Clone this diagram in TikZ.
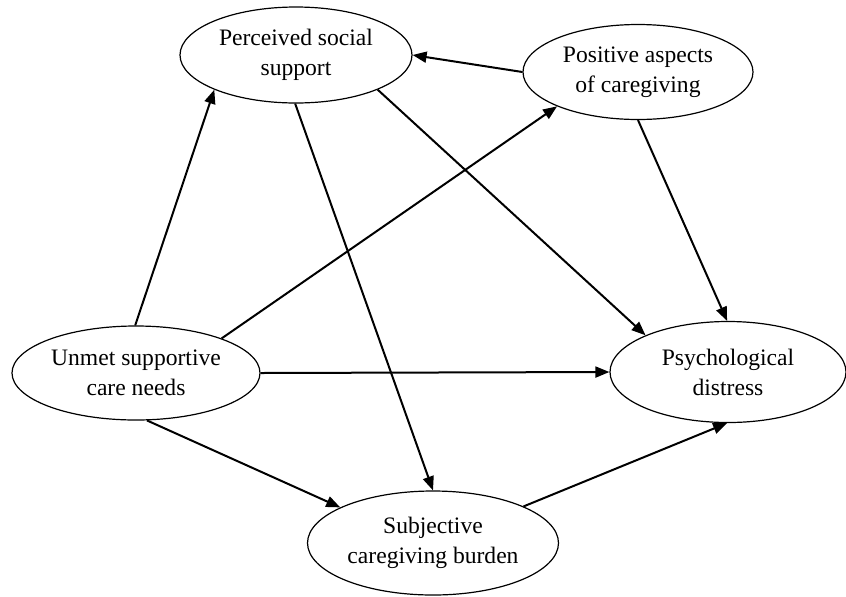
\documentclass[tikz,border=0pt]{standalone}
\usepackage{fontspec}
\setmainfont{Liberation Serif}
\usetikzlibrary{shapes.geometric,arrows.meta}
\tikzset{
	factor/.style={ellipse,draw,line width=0.6pt,inner sep=0pt,align=center,
		font=\fontsize{11.8}{15}\selectfont},
	path/.style={line width=1pt,-{Triangle[length=7pt,width=5.5pt]}}
}
\begin{document}
\begin{tikzpicture}[x=0.5pt,y=-0.5pt]
	\useasboundingbox (0,0) rectangle (846,596);
	%faktorok
	\node [factor,minimum width=116pt,minimum height=48pt] (pss) at (296,55) {Perceived social\\support};
	\node [factor,minimum width=115pt,minimum height=47.5pt] (pac) at (638,72) {Positive aspects\\of caregiving};
	\node [factor,minimum width=124pt,minimum height=47pt] (usn) at (136,373) {Unmet supportive\\care needs};
	\node [factor,minimum width=118pt,minimum height=50.5pt] (psd) at (728,372) {Psychological\\distress};
	\node [factor,minimum width=125.5pt,minimum height=52pt] (scb) at (433,543) {Subjective\\caregiving burden};
	%utak
	\draw [path] (usn.91) -- (pss.203);
	\draw [path] (usn.22) -- (pac.203);
	\draw [path] (usn.east) -- (psd.west);
	\draw [path] (usn.283) -- (scb.159);
	\draw [path] (pss.269) -- (scb.90);
	\draw [path] (pss.337) -- (psd.156);
	\draw [path] (pac.west) -- (pss.east);
	\draw [path] (pac.270) -- (psd.91);
	\draw [path] (scb.22) -- (psd.269);
\end{tikzpicture}
\end{document}
